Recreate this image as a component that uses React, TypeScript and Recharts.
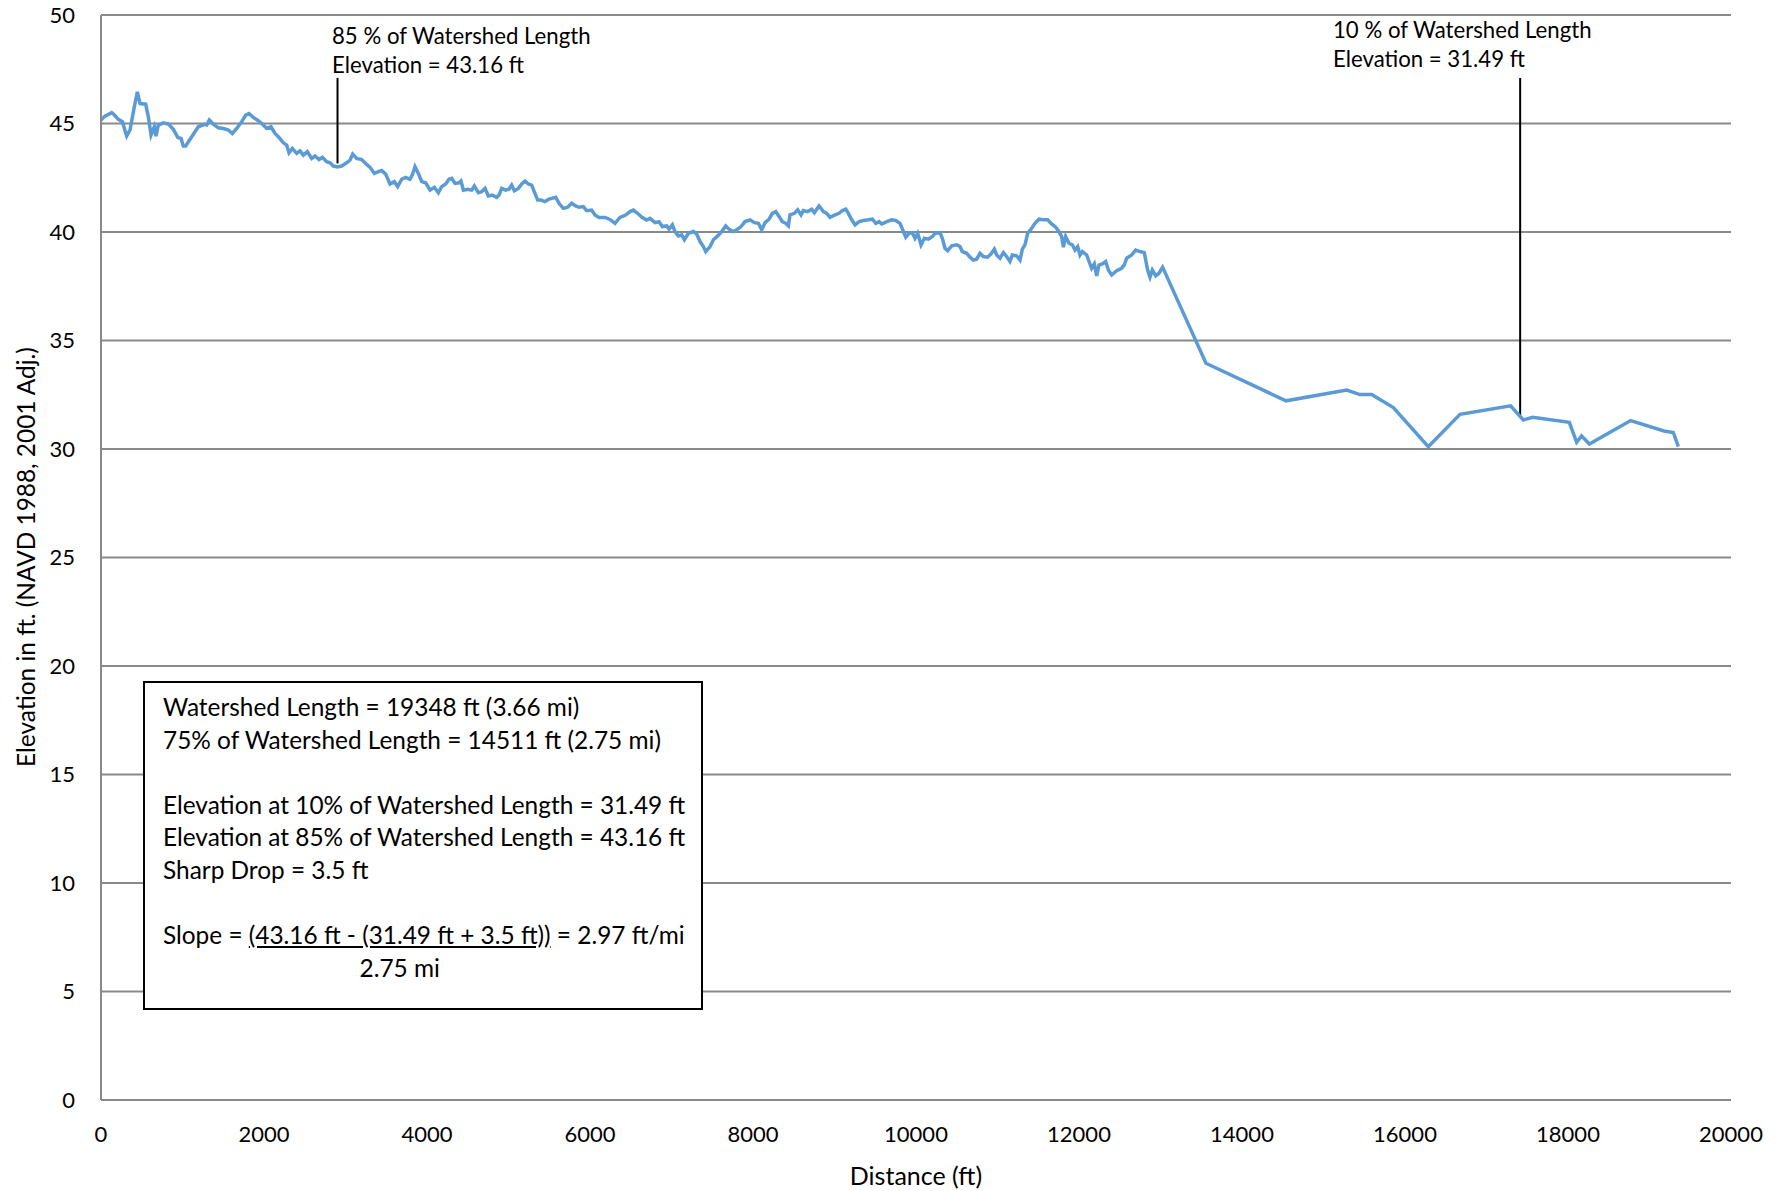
import React from "react";
import { LineChart, Line, XAxis, YAxis, CartesianGrid, ReferenceLine } from "recharts";

// distance along the flow path (ft)
const distanceFt = [
  0, 49, 131, 164, 213, 262, 315, 356, 409, 446, 479, 548, 581, 614, 654, 675, 703, 765, 826, 888,
  941, 982, 1010, 1039, 1113, 1194, 1268, 1296, 1329, 1378, 1440, 1501, 1562, 1611, 1665, 1726, 1775, 1816, 1869, 1930,
  1992, 2033, 2086, 2135, 2184, 2237, 2278, 2307, 2348, 2401, 2442, 2483, 2532, 2585, 2626, 2675, 2716, 2769, 2810, 2851,
  2900, 2953, 3014, 3055, 3088, 3137, 3199, 3248, 3301, 3354, 3403,
  3444, 3493, 3546, 3599, 3640, 3689, 3738, 3791, 3820, 3853, 3894, 3935, 3984, 4037, 4090, 4139, 4180, 4229, 4270, 4303,
  4344, 4393, 4417, 4446, 4499, 4548, 4581, 4630, 4671, 4712, 4753, 4802, 4855, 4884, 4916, 4965, 5006, 5039, 5072, 5121,
  5162, 5203, 5244, 5284, 5325, 5358, 5399, 5448, 5489, 5530, 5579, 5620, 5673, 5726, 5775, 5824, 5865, 5918, 5959, 6020,
  6061, 6110, 6184, 6245, 6307, 6368, 6438, 6491, 6532, 6593, 6642, 6695, 6736, 6798, 6847,
  6888, 6941, 6970, 7011, 7043, 7084, 7125, 7158, 7207, 7268, 7309, 7350, 7391, 7420, 7473, 7514, 7567, 7616, 7665, 7706,
  7759, 7800, 7853, 7902, 7964, 8017, 8066, 8107, 8148, 8197, 8238, 8279, 8320, 8360, 8401, 8434, 8454, 8508, 8548, 8589,
  8618, 8671, 8720, 8753, 8810, 8864, 8904, 8945, 9007, 9056, 9097, 9138, 9170, 9211, 9252, 9301, 9354, 9416, 9465, 9506,
  9547, 9580, 9641, 9702, 9751, 9804, 9833, 9874, 9914, 9955, 9988, 10021, 10062, 10103, 10152, 10201,
  10233, 10294, 10323, 10356, 10388, 10438, 10499, 10540, 10568, 10622, 10663, 10703, 10744, 10785, 10826, 10879, 10920, 10961, 10990, 11031,
  11072, 11112, 11153, 11182, 11235, 11276, 11305, 11337, 11370, 11419, 11460, 11509, 11562, 11615, 11665, 11714, 11754, 11787, 11808, 11836,
  11877, 11918, 11951, 11984, 12012, 12041, 12094, 12123, 12155, 12188, 12217, 12245, 12286, 12327, 12360, 12401, 12462, 12523, 12556, 12585,
  12646, 12695, 12748, 12801, 12842, 12871, 12900, 12941, 12981, 13026,
  13558, 14540, 15284, 15448, 15591, 15857, 16286, 16675, 17296, 17452, 17566, 18016, 18106, 18167, 18262, 18769, 19178, 19292, 19354,
];

// ground elevation (ft, NAVD 1988) at each distance
const elevationFt = [
  45.16, 45.34, 45.5, 45.39, 45.19, 45.08, 44.42, 44.7, 45.77, 46.46, 45.92, 45.89, 45.31, 44.47, 44.85, 44.42, 44.93, 45.03, 44.97, 44.73,
  44.36, 44.31, 43.96, 43.96, 44.39, 44.85, 44.96, 44.93, 45.16, 44.97, 44.8, 44.77, 44.7, 44.54, 44.77, 45.08, 45.39, 45.46, 45.28, 45.13,
  44.93, 44.77, 44.85, 44.54, 44.36, 44.11, 44.0, 43.65, 43.85, 43.62, 43.74, 43.54, 43.7, 43.39, 43.5, 43.34, 43.44, 43.24, 43.19, 43.04,
  43.0, 43.04, 43.19, 43.31, 43.59, 43.39, 43.34, 43.16, 42.98, 42.7, 42.78,
  42.83, 42.67, 42.21, 42.32, 42.09, 42.43, 42.52, 42.43, 42.63, 43.01, 42.7, 42.32, 42.27, 41.93, 42.06, 41.81, 42.09, 42.21, 42.43, 42.47,
  42.24, 42.27, 42.35, 41.93, 41.97, 41.93, 42.12, 41.81, 41.86, 42.01, 41.66, 41.7, 41.6, 41.7, 42.01, 41.93, 41.97, 42.16, 41.9, 42.01,
  42.21, 42.35, 42.21, 42.16, 41.78, 41.47, 41.47, 41.4, 41.5, 41.55, 41.6, 41.32, 41.09, 41.14, 41.32, 41.2, 41.14, 41.17, 40.98, 41.01,
  40.78, 40.67, 40.67, 40.58, 40.4, 40.67, 40.78, 40.94, 41.01, 40.83, 40.67, 40.55, 40.63, 40.43, 40.47,
  40.25, 40.28, 40.13, 40.33, 40.02, 39.82, 39.87, 39.64, 39.94, 40.02, 39.91, 39.56, 39.33, 39.1, 39.33, 39.64, 39.82, 40.02, 40.28, 40.13,
  40.02, 40.1, 40.25, 40.48, 40.56, 40.43, 40.4, 40.1, 40.43, 40.59, 40.86, 40.94, 40.71, 40.48, 40.4, 40.28, 40.79, 40.86, 41.02, 40.79,
  40.99, 40.94, 41.05, 40.89, 41.2, 40.94, 40.86, 40.68, 40.79, 40.86, 40.99, 41.05, 40.86, 40.56, 40.33, 40.48, 40.53, 40.56, 40.59, 40.4,
  40.48, 40.37, 40.48, 40.56, 40.53, 40.4, 40.13, 39.76, 39.94, 39.97, 39.71, 39.94, 39.4, 39.71, 39.67, 39.79,
  39.94, 39.97, 39.71, 39.25, 39.14, 39.36, 39.41, 39.33, 39.1, 39.02, 38.84, 38.71, 38.75, 39.02, 38.87, 38.84, 38.99, 39.21, 38.94, 38.79,
  39.05, 38.87, 38.64, 38.94, 38.9, 38.71, 39.21, 39.41, 39.94, 40.17, 40.4, 40.59, 40.56, 40.56, 40.37, 40.22, 40.02, 39.79, 39.3, 39.79,
  39.48, 39.41, 39.17, 39.33, 38.94, 39.1, 38.94, 38.64, 38.33, 38.53, 37.98, 38.48, 38.53, 38.64, 38.25, 38.02, 38.22, 38.33, 38.48, 38.79,
  38.94, 39.17, 39.1, 39.05, 38.25, 37.92, 38.25, 37.98, 38.1, 38.38,
  33.95, 32.22, 32.72, 32.51, 32.51, 31.91, 30.11, 31.6, 31.99, 31.34, 31.46, 31.23, 30.31, 30.6, 30.23, 31.31, 30.83, 30.76, 30.11,
];

const xTicks = [0, 2000, 4000, 6000, 8000, 10000, 12000, 14000, 16000, 18000, 20000];
const yTicks = [0, 5, 10, 15, 20, 25, 30, 35, 40, 45, 50];

// 85% and 10% of watershed length markers
const markerX = [2902, 17413];
const markerElev = [43.16, 31.49];
const markerTop = 47.1;

const rows = distanceFt.map((d, i) => ({ distance: d, elevation: elevationFt[i] }));

const FONT = "Lato, 'Open Sans', sans-serif";
const GRID = "#898989";

export default function App() {
  const tickStyle = { fill: "#000", fontSize: 22, fontFamily: FONT };
  return (
    <div style={{ position: "absolute", left: 0, top: 0, width: 1784, height: 1191, background: "#fff", fontFamily: FONT, color: "#000" }}>
      <LineChart width={1784} height={1191} data={rows} margin={{ top: 15, right: 53, bottom: 0, left: 0 }}>
        <CartesianGrid vertical={false} stroke={GRID} strokeWidth={2} />
        <XAxis
          dataKey="distance"
          type="number"
          domain={[0, 20000]}
          ticks={xTicks}
          height={91}
          tickLine={false}
          tickSize={0}
          tickMargin={26}
          axisLine={{ stroke: GRID, strokeWidth: 2 }}
          tick={tickStyle}
        />
        <YAxis
          type="number"
          domain={[0, 50]}
          ticks={yTicks}
          width={101}
          tickLine={false}
          tickSize={0}
          tickMargin={26}
          axisLine={{ stroke: GRID, strokeWidth: 2 }}
          tick={tickStyle}
        />
        {markerX.map((x, i) => (
          <ReferenceLine
            key={x}
            segment={[{ x, y: markerElev[i] }, { x, y: markerTop }]}
            stroke="#000"
            strokeWidth={2}
          />
        ))}
        <Line
          type="linear"
          dataKey="elevation"
          stroke="#5B9BD5"
          strokeWidth={3.5}
          dot={false}
          isAnimationActive={false}
        />
      </LineChart>

      {/* axis titles */}
      <div style={{ position: "absolute", left: 916, top: 1175, transform: "translate(-50%, -50%)", fontSize: 25, whiteSpace: "nowrap" }}>
        Distance (ft)
      </div>
      <div style={{ position: "absolute", left: 25, top: 557, transform: "translate(-50%, -50%) rotate(-90deg)", fontSize: 24.4, whiteSpace: "nowrap" }}>
        Elevation in ft. (NAVD 1988, 2001 Adj.)
      </div>

      {/* marker labels */}
      <div style={{ position: "absolute", left: 332, top: 21, fontSize: 22.2, lineHeight: "29px", whiteSpace: "nowrap" }}>
        <div>85 % of Watershed Length</div>
        <div>Elevation = 43.16 ft</div>
      </div>
      <div style={{ position: "absolute", left: 1333, top: 15, fontSize: 22.2, lineHeight: "29px", whiteSpace: "nowrap" }}>
        <div>10 % of Watershed Length</div>
        <div>Elevation = 31.49 ft</div>
      </div>

      {/* summary box */}
      <div
        style={{
          position: "absolute",
          left: 143,
          top: 681,
          width: 560,
          height: 329,
          boxSizing: "border-box",
          border: "2px solid #000",
          background: "#fff",
          padding: "8px 0 0 18px",
          fontSize: 24.4,
          lineHeight: "32.5px",
          whiteSpace: "nowrap",
        }}
      >
        <div>Watershed Length = 19348 ft (3.66 mi)</div>
        <div>75% of Watershed Length = 14511 ft (2.75 mi)</div>
        <div>&nbsp;</div>
        <div>Elevation at 10% of Watershed Length = 31.49 ft</div>
        <div>Elevation at 85% of Watershed Length = 43.16 ft</div>
        <div>Sharp Drop = 3.5 ft</div>
        <div>&nbsp;</div>
        <div>
          Slope ={" "}
          <span style={{ position: "relative", textDecoration: "underline" }}>
            (43.16 ft - (31.49 ft + 3.5 ft))
            <span style={{ position: "absolute", left: "50%", top: 32.5, transform: "translateX(-50%)", display: "inline-block" }}>
              2.75 mi
            </span>
          </span>{" "}
          = 2.97 ft/mi
        </div>
      </div>
    </div>
  );
}
